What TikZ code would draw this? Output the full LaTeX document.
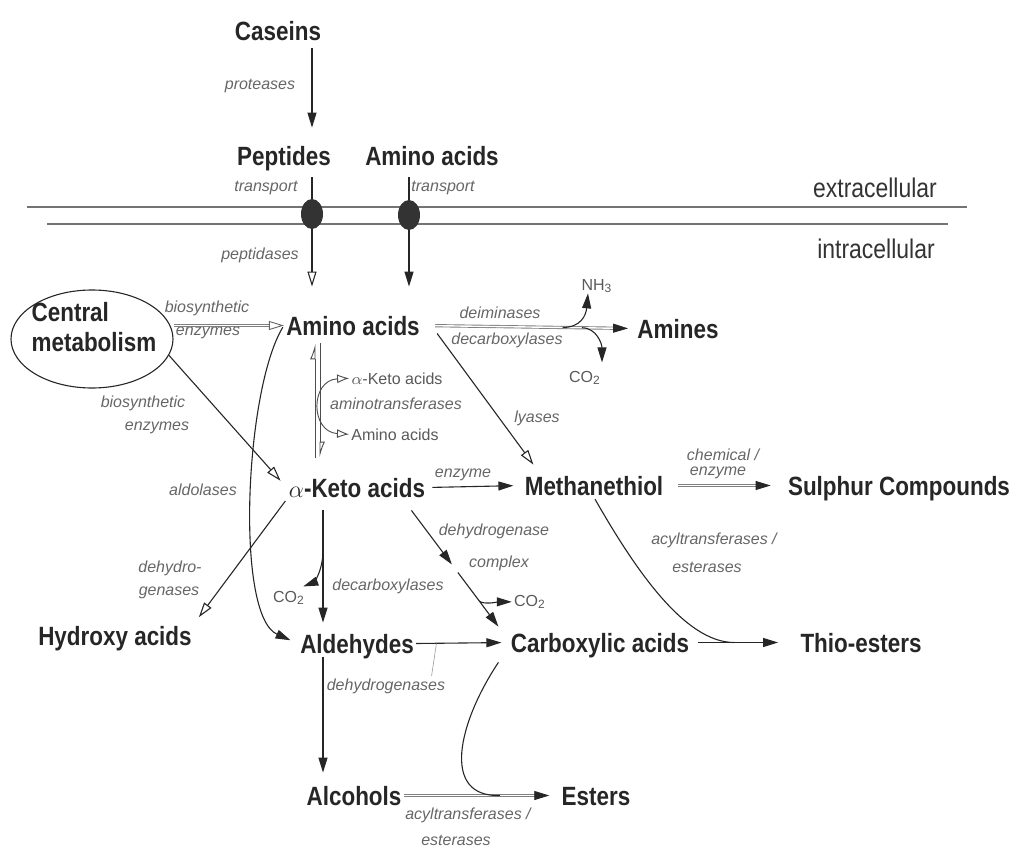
\documentclass[tikz,border=0pt]{standalone}
\usepackage{fontspec}
\setmainfont{Liberation Sans}
\newfontfamily\narrowfont{Liberation Sans}[FakeStretch=0.85]
\usetikzlibrary{arrows.meta,shapes.geometric,calc}
\tikzset{
    compound/.style={font=\narrowfont\bfseries\fontsize{13.2}{15}\selectfont, text=black!85, anchor=base, inner sep=1pt, text height=9.5pt, text depth=0pt},
    enz/.style={font=\fontsize{8}{9}\selectfont\itshape, text=black!60, anchor=base, inner sep=1pt},
    mol/.style={font=\fontsize{8}{9}\selectfont, text=black!65, anchor=base, inner sep=1pt},
    region/.style={font=\narrowfont\fontsize{13.5}{15}\selectfont, text=black!80, anchor=base, inner sep=1pt},
    transp/.style={ellipse, fill=black!80, minimum width=11pt, minimum height=15pt, inner sep=0pt},
    membrane/.style={draw=black!55, line width=1.1pt},
    arr/.style={-{Triangle[length=7.5pt,width=4.5pt]}, line width=0.55pt, draw=black!85},
    oarr/.style={-{Triangle[open,length=7.5pt,width=4.5pt,fill=white]}, line width=0.55pt, draw=black!85},
    dbl/.style={draw=black!50, double=white, double distance=0.7pt, line width=0.45pt},
    harp/.style={-{Latex[open,left,length=7pt,width=5pt]}, line width=0.45pt, draw=black!70},
    leader/.style={draw=black!40, line width=0.3pt}
}
\begin{document}
\begin{tikzpicture}[x=0.5pt,y=-0.5pt]
\useasboundingbox (0,0) rectangle (1013,846);
% membrane
\draw[membrane] (27,207) -- (967,207);
\draw[membrane] (47,224) -- (948,224);
\node[region] (extra) at (875,197) {extracellular};
\node[region] (intra) at (876,258) {intracellular};

\node[compound] (caseins) at (278,40) {Caseins};
\node[compound] (pep) at (284,165) {Peptides};
\node[compound] (aaout) at (432,165) {Amino acids};
\node[compound] (aa) at (353,335) {Amino acids};
\node[compound] (amines) at (678,338) {Amines};
\node[compound] (ka) at (357,497) {$\alpha$-Keto acids};
\node[compound] (meth) at (594,495) {Methanethiol};
\node[compound] (sulph) at (899,495) {Sulphur Compounds};
\node[compound] (hydroxy) at (115,645) {Hydroxy acids};
\node[compound] (ald) at (357,653) {Aldehydes};
\node[compound] (carb) at (600,652) {Carboxylic acids};
\node[compound] (thio) at (861,652) {Thio-esters};
\node[compound] (alc) at (354,805) {Alcohols};
\node[compound] (est) at (596,805) {Esters};

\node[ellipse, draw=black!85, line width=0.55pt, minimum width=81pt, minimum height=49pt, inner sep=0pt] (cm) at (92,339) {};
\node[font=\narrowfont\bfseries\fontsize{13.2}{15}\selectfont, text=black!85, align=left, inner sep=0pt] (cmtext) at (94,327) {Central\\metabolism};

\node[enz] (prot) at (260,89) {proteases};
\node[enz] (tr1) at (266,191) {transport};
\node[enz] (tr2) at (443,191) {transport};
\node[enz] (peptid) at (260,259) {peptidases};
\node[enz] (bios1) at (207,312) {biosynthetic};
\node[enz] (enz1) at (208,335) {enzymes};
\node[enz] (bios2) at (143,407) {biosynthetic};
\node[enz] (enz2) at (157,430) {enzymes};
\node[mol] (kasm) at (397,384) {$\alpha$-Keto acids};
\node[enz] (aminot) at (396,409) {aminotransferases};
\node[mol] (aasm) at (395,440) {Amino acids};
\node[enz] (deim) at (500,318) {deiminases};
\node[enz] (decarb) at (507,344) {decarboxylases};
\node[mol] (nh3) at (597,290) {NH\textsubscript{3}};
\node[mol] (co2a) at (585,382) {CO\textsubscript{2}};
\node[enz] (lyases) at (537,422) {lyases};
\node[enz] (enzyme) at (463,477) {enzyme};
\node[enz] (chem) at (723,460) {chemical /};
\node[enz] (enz3) at (718,475) {enzyme};
\node[enz] (aldol) at (203,495) {aldolases};
\node[enz] (dhyd1) at (170,572) {dehydro-};
\node[enz] (dhyd2) at (169,595) {genases};
\node[mol] (co2b) at (289,602) {CO\textsubscript{2}};
\node[enz] (decarb2) at (388,590) {decarboxylases};
\node[enz] (dhc1) at (494,535) {dehydrogenase};
\node[enz] (dhc2) at (499,567) {complex};
\node[mol] (co2c) at (530,606) {CO\textsubscript{2}};
\node[enz] (acyl1) at (714,544) {acyltransferases /};
\node[enz] (ester1) at (707,572) {esterases};
\node[enz] (dhg) at (386,690) {dehydrogenases};
\node[enz] (acyl2) at (468,819) {acyltransferases /};
\node[enz] (ester2) at (456,845) {esterases};

\coordinate (t1pos) at (312,214);
\coordinate (t2pos) at (409,215);
\coordinate (amL) at (315,400);
\coordinate (amR) at (320,400);
\coordinate (stem) at (323,600);

% uptake
\draw[arr, shorten <=3pt, shorten >=8pt] (caseins.south -| t1pos) -- (pep.north -| t1pos);
\draw[oarr, shorten <=5pt, shorten >=13.5pt] (pep.south -| t1pos) -- (aa.north -| t1pos);
\draw[arr, shorten <=5pt, shorten >=13.5pt] (aaout.south -| t2pos) -- (aa.north -| t2pos);
\node[transp] (t1) at (t1pos) {};
\node[transp] (t2) at (t2pos) {};

% central metabolism
\draw[dbl, -{Triangle[open,length=7.5pt,width=4.5pt,fill=white,color=black!60]}] (cm.east |- aa.west) -- (aa.west);
\draw[oarr, shorten >=4.5pt] (cm.-12) -- (ka.west);

% amino acids
\draw[harp, shorten <=9pt, shorten >=3pt] (ka.north -| amL) -- (aa.south -| amL);
\draw[harp, shorten <=3pt, shorten >=9pt] (aa.south -| amR) -- (ka.north -| amR);
\draw[line width=0.45pt, draw=black!70, {Latex[open,length=6pt,width=4.5pt]}-{Latex[open,length=6pt,width=4.5pt]}] (kasm.west) .. controls (310,380) and (310,432) .. (aasm.west);
\draw[dbl, -{Triangle[length=7.5pt,width=4.5pt,color=black!85]}, shorten <=6.5pt, shorten >=3.5pt] (aa.east) -- (amines.west);
\coordinate (nhb) at ($(aa.east)!0.66!(amines.west)$);
\coordinate (cob) at ($(aa.east)!0.75!(amines.west)$);
\draw[arr] (nhb) .. controls +(18,0) and +(-2,22) .. ($(nh3.south)+(-9,-2)$);
\draw[arr] (cob) .. controls +(15,0) and +(0,-18) .. ($(co2a.north)+(17,-6)$);
\draw[oarr] ($(aa.east)+(15,8)$) -- ($(meth.north west)+(11,-9)$);
\draw[arr, shorten <=1pt, shorten >=4pt] (aa.west) .. controls +(-39,64) and +(-63,-28) .. (ald.west);

% keto acids
\draw[arr, shorten <=2.5pt, shorten >=4.5pt] (ka.east) -- (meth.west);
\draw[oarr, shorten <=1pt, shorten >=4pt] (ka.south west) -- (hydroxy.north east);
\draw[arr, shorten <=5.5pt, shorten >=4.5pt] (ka.south -| stem) -- (ald.north -| stem);
\coordinate (cb) at ($(ka.south -| stem)!0.38!(ald.north -| stem)$);
\draw[arr] (cb) .. controls +(0,25) and +(8,-3) .. ($(co2b.north east)+(-4,-2)$);
\coordinate (dhs) at ($(ka.south east)+(-16,11)$);
\coordinate (dhe) at ($(carb.north west)+(-10,-4)$);
\draw[arr, shorten >=2.5pt] (dhs) -- ($(dhs)!0.5!(dhe)$);
\draw[arr, shorten <=2.5pt] ($(dhs)!0.5!(dhe)$) -- (dhe);
\coordinate (cc) at ($(dhs)!0.78!(dhe)$);
\draw[arr] (cc) .. controls +(4,4) and +(-12,0) .. (co2c.west);

% methanethiol
\draw[dbl, -{Triangle[length=7.5pt,width=4.5pt,color=black!85]}, shorten <=6pt, shorten >=7.5pt] (meth.east) -- (sulph.west);
\coordinate (tj) at ($(carb.east)!0.4!(thio.west)$);
\draw[line width=0.55pt, draw=black!85, shorten <=1pt] (meth.south) .. controls +(40,70) and +(-50,0) .. (tj);
\draw[arr, shorten <=3pt, shorten >=10pt] (carb.east) -- (thio.west);

% aldehydes
\draw[arr, shorten >=3.5pt] (ald.east) -- (carb.west);
\draw[leader] ($(dhg.north east)+(-16,0)$) -- ($(ald.east)!0.22!(carb.west)$);
\draw[arr, shorten <=1pt, shorten >=5.5pt] (ald.south -| stem) -- (alc.north -| stem);
\draw[dbl, -{Triangle[length=7.5pt,width=4.5pt,color=black!85]}, shorten >=5pt] (alc.east) -- (est.west);
\coordinate (ej) at ($(alc.east)!0.62!(est.west)$);
\draw[line width=0.55pt, draw=black!85] ($(carb.south west)+(-10,8)$) .. controls +(-40,60) and +(-60,2) .. (ej);
\end{tikzpicture}
\end{document}
